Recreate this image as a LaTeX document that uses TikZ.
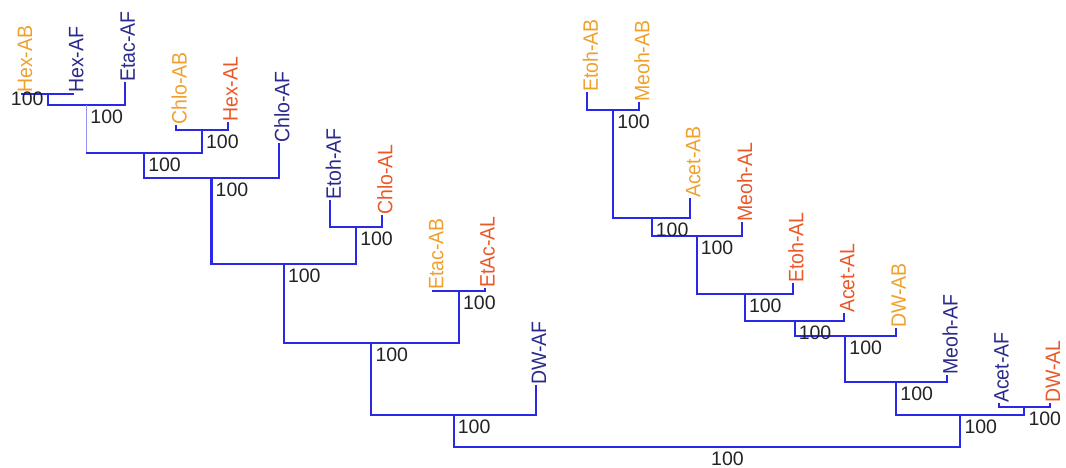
\documentclass[tikz,border=0pt]{standalone}
\usepackage{fontspec}
\setmainfont{Liberation Sans}
\usetikzlibrary{calc}
\definecolor{abcol}{RGB}{240,160,45}
\definecolor{alcol}{RGB}{235,88,40}
\definecolor{afcol}{RGB}{42,42,140}
\definecolor{brcol}{RGB}{40,40,230}
\definecolor{bscol}{RGB}{35,35,35}
\newcommand{\lf}[1]{\scalebox{1}[1.07]{#1}}
\begin{document}
\begin{tikzpicture}[x=1pt,y=-1pt,
  leaf/.style={rotate=90,anchor=west,inner sep=0pt,font=\fontsize{19.5}{19.5}\selectfont},
  ab/.style={leaf,text=abcol},
  al/.style={leaf,text=alcol},
  af/.style={leaf,text=afcol},
  br/.style={draw=brcol,line width=2.1pt},
  brl/.style={draw=brcol!50,line width=1.4pt},
  bs/.style={inner sep=0pt,anchor=north west,text=bscol,font=\fontsize{19.5}{19.5}\selectfont}]
\useasboundingbox (0,0) rectangle (1066,468);

% leaves: x = stem, label offset by 3
\node[ab] (hexab)  at (25,93)     {\lf{Hex-AB}};
\node[af] (hexaf)  at (76.4,93)   {\lf{Hex-AF}};
\node[af] (etacaf) at (127.8,82)  {\lf{Etac-AF}};
\node[ab] (chloab) at (179.2,125) {\lf{Chlo-AB}};
\node[al] (hexal)  at (230.6,122) {\lf{Hex-AL}};
\node[af] (chloaf) at (282,143)   {\lf{Chlo-AF}};
\node[af] (etohaf) at (333.4,200) {\lf{Etoh-AF}};
\node[al] (chloal) at (384.8,215) {\lf{Chlo-AL}};
\node[ab] (etacab) at (436.2,290) {\lf{Etac-AB}};
\node[al] (etacal) at (487.6,288) {\lf{EtAc-AL}};
\node[af] (dwaf)   at (539,385)   {\lf{DW-AF}};
\node[ab] (etohab) at (590.4,92)  {\lf{Etoh-AB}};
\node[ab] (meohab) at (641.8,102) {\lf{Meoh-AB}};
\node[ab] (acetab) at (693.2,198) {\lf{Acet-AB}};
\node[al] (meohal) at (744.6,222) {\lf{Meoh-AL}};
\node[al] (etohal) at (796,283)   {\lf{Etoh-AL}};
\node[al] (acetal) at (847.4,313) {\lf{Acet-AL}};
\node[ab] (dwab)   at (898.8,328) {\lf{DW-AB}};
\node[af] (meohaf) at (950.2,375) {\lf{Meoh-AF}};
\node[af] (acetaf) at (1001.6,403){\lf{Acet-AF}};
\node[al] (dwal)   at (1053,403)  {\lf{DW-AL}};

\foreach \n in {hexab,hexaf,etacaf,chloab,hexal,chloaf,etohaf,chloal,etacab,etacal,dwaf,
  etohab,meohab,acetab,meohal,etohal,acetal,dwab,meohaf,acetaf,dwal}
  \coordinate (\n-s) at ([xshift=-3pt]\n.west);

% internal nodes
\coordinate (nA) at (47.7,94);
\coordinate (nB) at (86.25,105);
\coordinate (nC) at (201.9,130);
\coordinate (nD) at (144.1,153);
\coordinate (nE) at (211.5,178);
\coordinate (nF) at (356.1,227);
\coordinate (nG) at (283.8,264);
\coordinate (nH) at (458.9,291);
\coordinate (nI) at (371.3,343);
\coordinate (nJ) at (453.7,415);
\coordinate (nK) at (613.1,110);
\coordinate (nL) at (651.7,218);
\coordinate (nM) at (696.6,236);
\coordinate (nN) at (744.8,294);
\coordinate (nO) at (794.6,321);
\coordinate (nP) at (845.2,336);
\coordinate (nQ) at (896.2,382);
\coordinate (nR) at (1024.3,407);
\coordinate (nS) at (960.3,415);
\coordinate (nRoot) at (707,447);

% branches
\draw[br] (hexab-s) |- (nA) -| (hexaf-s);
\draw[br] (nA) |- (nB) -| (etacaf-s);
\draw[br] (chloab-s) |- (nC) -| (hexal-s);
\draw[brl] (nB) -- (nB |- nD);
\draw[br] (nB |- nD) -- (nD) -| (nC);
\draw[br] (nD) |- (nE) -| (chloaf-s);
\draw[br] (etohaf-s) |- (nF) -| (chloal-s);
\draw[br] (nE) |- (nG) -| (nF);
\draw[br] (etacab-s) |- (nH) -| (etacal-s);
\draw[br] (nG) |- (nI) -| (nH);
\draw[br] (nI) |- (nJ) -| (dwaf-s);
\draw[br] (etohab-s) |- (nK) -| (meohab-s);
\draw[br] (nK) |- (nL) -| (acetab-s);
\draw[br] (nL) |- (nM) -| (meohal-s);
\draw[br] (nM) |- (nN) -| (etohal-s);
\draw[br] (nN) |- (nO) -| (acetal-s);
\draw[br] (nO) |- (nP) -| (dwab-s);
\draw[br] (nP) |- (nQ) -| (meohaf-s);
\draw[br] (acetaf-s) |- (nR) -| (dwal-s);
\draw[br] (nQ) |- (nS) -| (nR);
\draw[br] (nJ) |- (nRoot) -| (nS);

% bootstrap labels
\node[bs,anchor=north east] (lA) at ($(nA)+(-4,-2)$) {100};
\foreach \n in {B,C,D,E,F,G,H,I,J,K,L,M,N,O,P,Q,R,S,Root}
  \node[bs] (l\n) at ($(n\n)+(4,5)$) {100};
\end{tikzpicture}
\end{document}
